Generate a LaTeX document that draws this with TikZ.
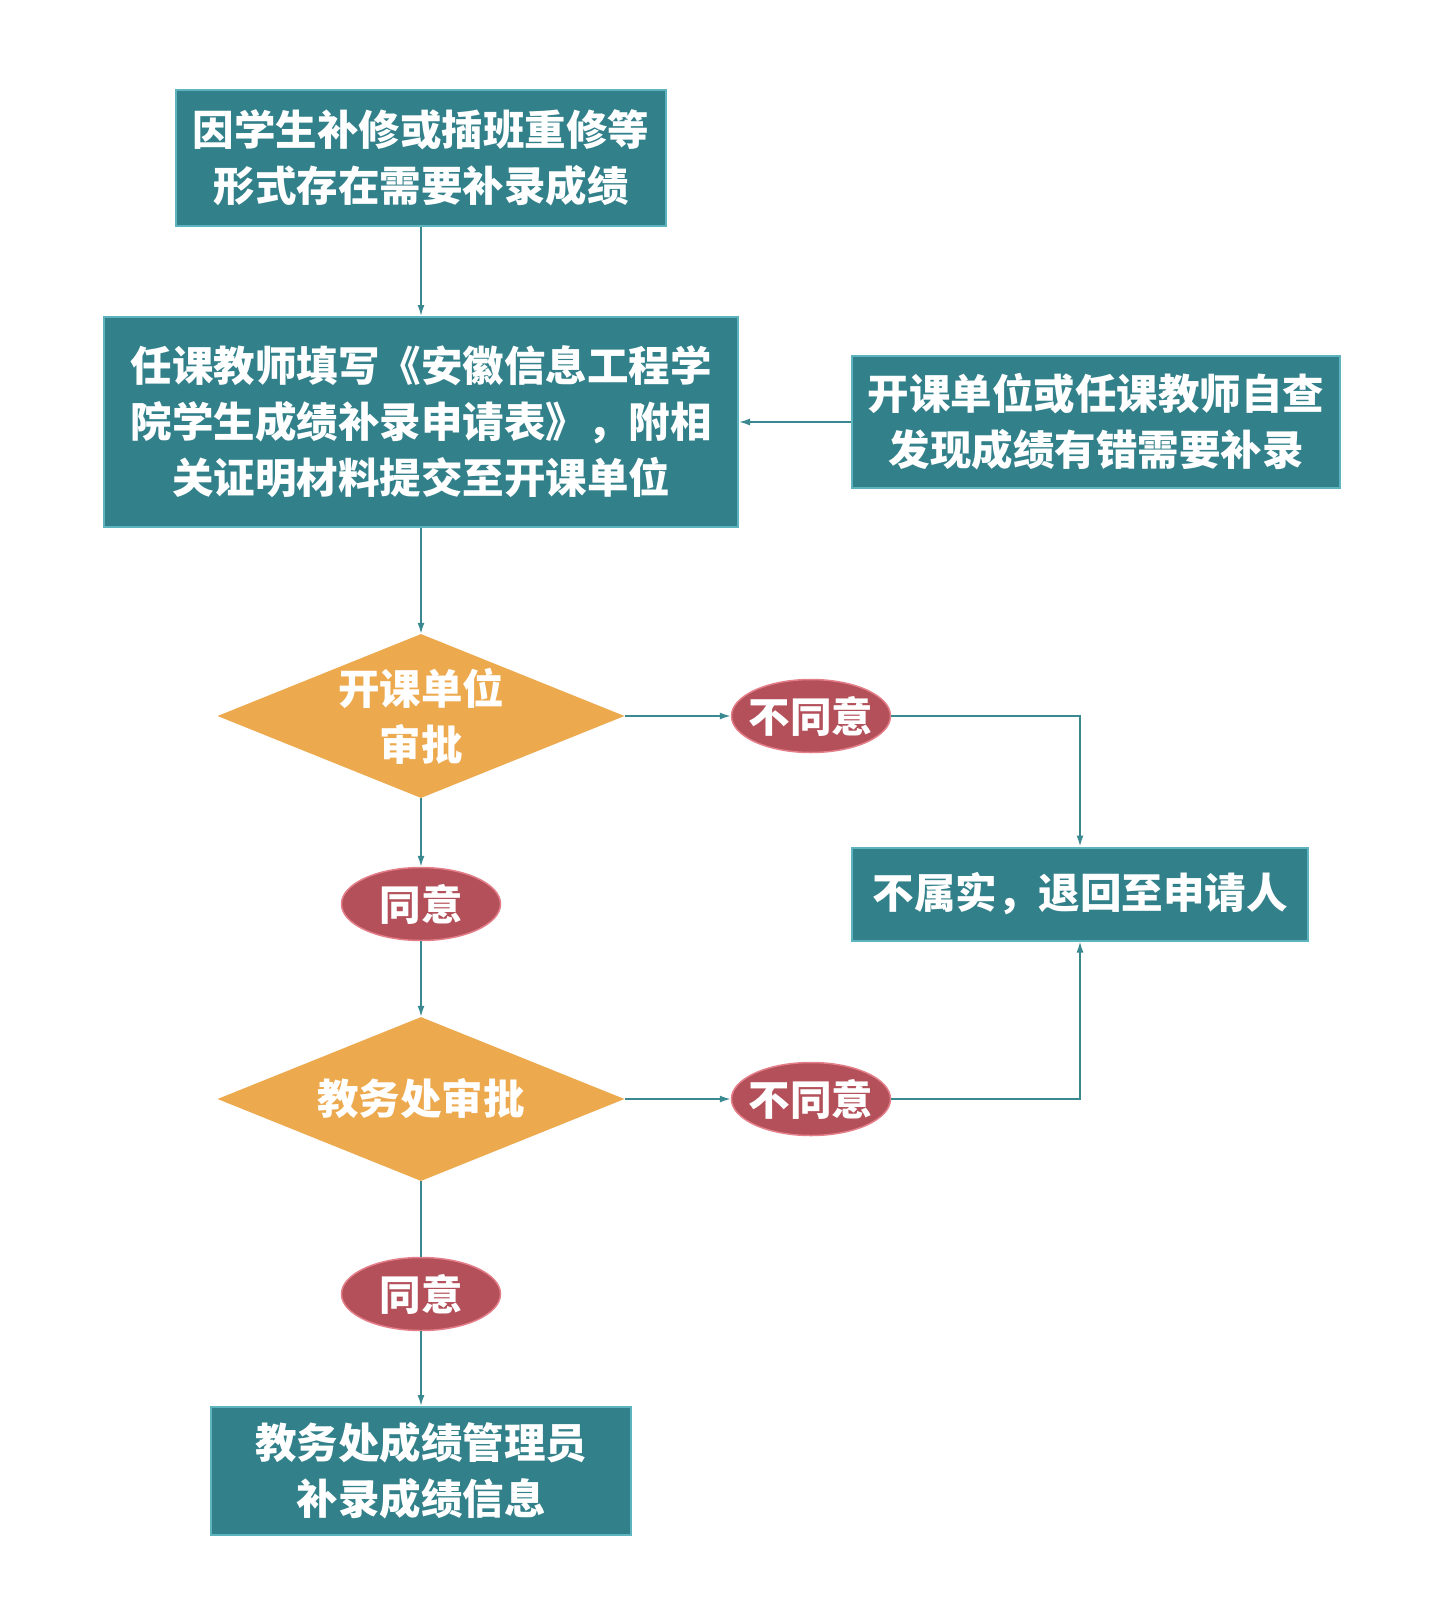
\documentclass[tikz,border=0pt]{standalone}
\usepackage{fontspec}
\usepackage{tikz}
\usetikzlibrary{arrows.meta,positioning,shapes.geometric}
\usepackage{xcolor}
\newfontfamily\cjk{Noto Sans CJK SC}
\definecolor{boxfill}{HTML}{31808A}
\definecolor{boxline}{HTML}{5DB4BE}
\definecolor{gate}{HTML}{EDA94E}
\definecolor{verdict}{HTML}{B3505A}
\definecolor{verdictline}{HTML}{E47E88}
\definecolor{flow}{HTML}{3A8890}

\tikzset{
  box/.style={draw=boxline,line width=2pt,fill=boxfill,text=white,align=center,inner sep=0pt},
  gatebox/.style={diamond,fill=gate,text=white,align=center,inner sep=0pt,shape aspect=2.48,minimum width=407pt,minimum height=164pt},
  vote/.style={ellipse,draw=verdictline,line width=1.5pt,fill=verdict,text=white,inner xsep=-14pt,inner ysep=0pt,minimum width=159pt,minimum height=73pt},
  arr/.style={flow,line width=1.6pt,-{Latex[length=11pt,width=7pt]}},
  ln/.style={flow,line width=1.6pt}
}

\begin{document}
\begin{tikzpicture}[x=1pt,y=-1pt,font=\cjk\bfseries\fontsize{41.5}{56}\selectfont]
  \useasboundingbox[fill=white] (0,0) rectangle (1434,1600);

  % main column
  \node[box,minimum width=490pt,minimum height=135pt] (cause) at (421,158) {因学生补修或插班重修等\\形式存在需要补录成绩};
  \node[box,minimum width=634pt,minimum height=210pt] (apply) at (421,422) {任课教师填写《安徽信息工程学\\院学生成绩补录申请表》，附相\\关证明材料提交至开课单位};
  \node[box,minimum width=488pt,minimum height=132pt] (selfchk) at (1096,422) {开课单位或任课教师自查\\发现成绩有错需要补录};

  \node[gatebox] (unit) at (421,716) {开课单位\\审批};
  \node[vote] (unitno) at (811,716) {不同意};
  \node[vote] (unitok) at (421,904) {同意};
  \node[box,minimum width=456pt,minimum height=93pt] (back) at (1080,894) {不属实，退回至申请人};

  \node[gatebox] (office) at (421,1099) {教务处审批};
  \node[vote] (officeno) at (811,1099) {不同意};
  \node[vote] (officeok) at (421,1294) {同意};
  \node[box,minimum width=420pt,minimum height=128pt] (record) at (421,1471) {教务处成绩管理员\\补录成绩信息};

  % connectors
  \draw[arr] (cause) -- (apply);
  \draw[arr] (selfchk) -- (apply);
  \draw[arr] (apply) -- (unit);
  \draw[arr] (unit) -- (unitno);
  \draw[arr] (unitno) -| (back);
  \draw[arr] (unit) -- (unitok);
  \draw[arr] (unitok) -- (office);
  \draw[arr] (office) -- (officeno);
  \draw[arr] (officeno) -| (back);
  \draw[ln] (office) -- (officeok);
  \draw[arr] (officeok) -- (record);
\end{tikzpicture}
\end{document}
